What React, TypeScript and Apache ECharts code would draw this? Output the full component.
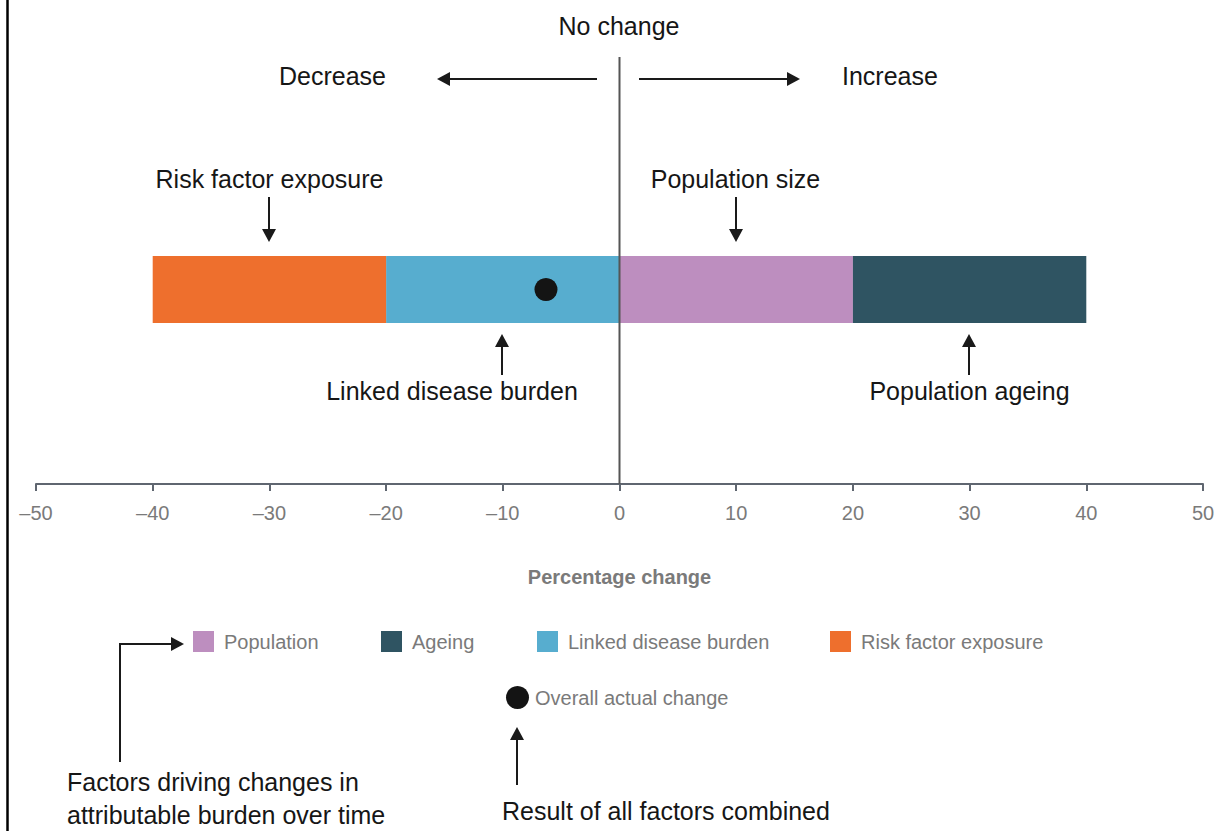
import React, { useEffect, useRef } from "react";
import * as echarts from "echarts";

const categories = ["Change"];
const seriesNames = ["Population", "Ageing", "Linked disease burden", "Risk factor exposure"];
const seriesValues = [20, 20, -20, -20];
const seriesColors = ["#bd8ebf", "#2f5462", "#57adcf", "#ee6f2d"];
const overallName = "Overall actual change";
const overallValue = [-6.3];
const legendLefts = [193, 381, 537, 830];
const xMin = -50;
const xMax = 50;
const xInterval = 10;

const FONT = "'Liberation Sans', Arial, Helvetica, sans-serif";

export default function App() {
  const ref = useRef<HTMLDivElement>(null);

  useEffect(() => {
    document.body.style.margin = "0";
    const chart = echarts.init(ref.current!, null, { renderer: "svg" });

    const barSeries = seriesNames.map((name, i) => ({
      name,
      type: "bar",
      stack: "total",
      barWidth: 67,
      itemStyle: { color: seriesColors[i] },
      data: categories.map(() => seriesValues[i]),
      z: 2,
    }));

    const legends: any[] = seriesNames.map((name, i) => ({
      data: [{ name, icon: "rect" }],
      left: legendLefts[i],
      top: 631,
      padding: 0,
      itemWidth: 21,
      itemHeight: 21,
      selectedMode: false,
      textStyle: { color: "#7a7a7a", fontSize: 20, fontFamily: FONT, padding: [0, 0, 0, 5] },
    }));
    legends.push({
      data: [{ name: overallName, icon: "circle" }],
      left: 506,
      top: 686,
      padding: 0,
      itemWidth: 23,
      itemHeight: 23,
      selectedMode: false,
      textStyle: { color: "#7a7a7a", fontSize: 20, fontFamily: FONT, padding: [0, 0, 0, 1] },
    });

    const axisColor = "#5f6670";

    chart.setOption({
      animation: false,
      backgroundColor: "#ffffff",
      grid: { left: 36, right: 19, top: 95, height: 389, containLabel: false },
      legend: legends,
      xAxis: {
        type: "value",
        min: xMin,
        max: xMax,
        interval: xInterval,
        splitLine: { show: false },
        axisLine: { show: true, lineStyle: { color: axisColor, width: 2 } },
        axisTick: { show: true, length: 7, lineStyle: { color: axisColor, width: 2 } },
        axisLabel: {
          color: "#7a7a7a",
          fontSize: 20,
          fontFamily: FONT,
          margin: 19,
          formatter: (v: number) => (v < 0 ? "\u2013" + Math.abs(v) : String(v)),
        },
        name: "Percentage change",
        nameLocation: "middle",
        nameGap: 83,
        nameTextStyle: { color: "#7a7a7a", fontSize: 20, fontWeight: "bold", fontFamily: FONT },
      },
      yAxis: {
        type: "category",
        data: categories,
        show: false,
      },
      series: [
        ...barSeries,
        {
          name: overallName,
          type: "scatter",
          symbol: "circle",
          symbolSize: 23,
          itemStyle: { color: "#141414", opacity: 1 },
          data: overallValue.map((v, i) => [v, categories[i]]),
          z: 5,
        },
      ],
    });

    const x0 = chart.convertToPixel({ xAxisIndex: 0 }, 0) as number;
    const txt = (text: string, x: number, y: number, align: string = "left") => ({
      type: "text",
      x,
      y,
      style: {
        text,
        fill: "#161616",
        fontSize: 25,
        fontFamily: FONT,
        align,
        verticalAlign: "middle",
      },
      z: 10,
    });
    const stroke = { stroke: "#1a1a1a", lineWidth: 2 };
    const ln = (x1: number, y1: number, x2: number, y2: number) => ({
      type: "line",
      shape: { x1, y1, x2, y2 },
      style: stroke,
      z: 10,
    });
    const head = (pts: number[][]) => ({
      type: "polygon",
      shape: { points: pts },
      style: { fill: "#1a1a1a" },
      z: 10,
    });
    const down = (x: number, y1: number, tip: number) => [
      ln(x, y1, x, tip - 10),
      head([[x, tip], [x - 7, tip - 13], [x + 7, tip - 13]]),
    ];
    const up = (x: number, y1: number, tip: number) => [
      ln(x, y1, x, tip + 10),
      head([[x, tip], [x - 7, tip + 13], [x + 7, tip + 13]]),
    ];

    chart.setOption({
      graphic: [
        { type: "line", shape: { x1: 7.5, y1: 0, x2: 7.5, y2: 831 }, style: { stroke: "#000", lineWidth: 2.5 }, z: 10 },
        { type: "line", shape: { x1: x0, y1: 57, x2: x0, y2: 484 }, style: { stroke: "#555", lineWidth: 2 }, z: 10 },
        txt("No change", 619, 26, "center"),
        txt("Decrease", 279, 76),
        txt("Increase", 842, 76),
        ln(447, 79, 597, 79),
        head([[437, 79], [450, 72], [450, 86]]),
        ln(639, 79, 790, 79),
        head([[800, 79], [787, 72], [787, 86]]),
        txt("Risk factor exposure", 269.5, 179, "center"),
        ...down(269, 197, 242),
        txt("Population size", 735.5, 179, "center"),
        ...down(736, 197, 242),
        txt("Linked disease burden", 452, 391, "center"),
        ...up(502, 375, 334),
        txt("Population ageing", 969.5, 391, "center"),
        ...up(969, 375, 334),
        {
          type: "polyline",
          shape: { points: [[120, 762], [120, 644], [174, 644]] },
          style: { ...stroke, fill: null },
          z: 10,
        },
        head([[184, 644], [171, 637], [171, 651]]),
        txt("Factors driving changes in", 67, 782),
        txt("attributable burden over time", 67, 815),
        ...up(517, 785, 727),
        txt("Result of all factors combined", 502, 811),
      ],
    });

    return () => chart.dispose();
  }, []);

  return <div ref={ref} style={{ width: 1222, height: 831 }} />;
}
